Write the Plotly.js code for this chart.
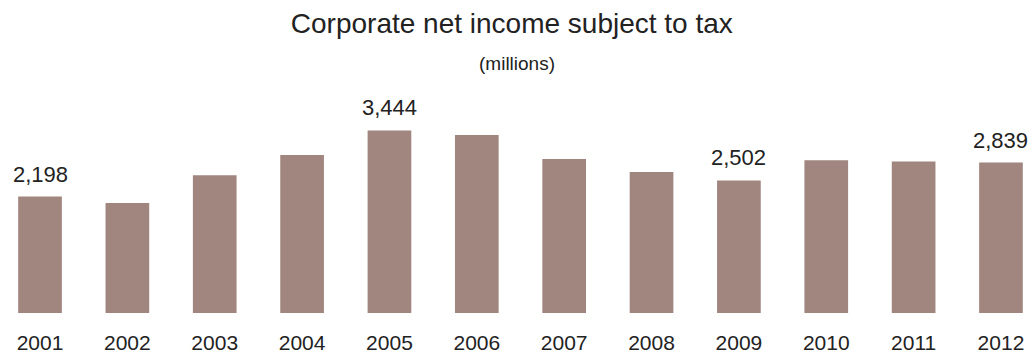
<!DOCTYPE html>
<html>
<head>
<meta charset="utf-8">
<script src="https://cdn.plot.ly/plotly-3.0.1.min.js"></script>
<style>html,body{margin:0;padding:0;background:#fff;}#chart{width:1034px;height:354px;}</style>
</head>
<body>
<div id="chart"></div>
<script>
var years = ['2001','2002','2003','2004','2005','2006','2007','2008','2009','2010','2011','2012'];
var income = [2198, 2075, 2600, 2980, 3444, 3360, 2905, 2660, 2502, 2880, 2860, 2839];
var labeledYears = ['2001','2005','2009','2012'];
var labeledValues = [2198, 3444, 2502, 2839];
var labelTexts = ['2,198','3,444','2,502','2,839'];

var trace = {
  type: 'bar',
  x: years,
  y: income,
  marker: {color: '#a0867f', line: {width: 0}},
  hoverinfo: 'x+y'
};

var annotations = labeledYears.map(function(yr, i){
  return {
    x: years.indexOf(yr), y: labeledValues[i], xref: 'x', yref: 'y',
    text: labelTexts[i], showarrow: false,
    xanchor: 'center', yanchor: 'bottom', yshift: 8,
    font: {family: 'Liberation Sans, Arial, sans-serif', size: 22, color: '#222'}
  };
});

annotations.push({
  xref: 'paper', yref: 'paper', x: 0.5, y: 1, yanchor: 'bottom', xanchor: 'center',
  yshift: 25, text: '(millions)', showarrow: false,
  font: {family: 'Liberation Sans, Arial, sans-serif', size: 19, color: '#222'}
});

var layout = {
  width: 1034, height: 354,
  margin: {l: 0, r: 0, t: 101, b: 41, pad: 0},
  paper_bgcolor: '#ffffff', plot_bgcolor: '#ffffff',
  bargap: 0.5,
  showlegend: false,
  title: {
    text: 'Corporate net income subject to tax',
    x: 0.495, xanchor: 'center', y: 0.935, yanchor: 'middle',
    font: {family: 'Liberation Sans, Arial, sans-serif', size: 28, color: '#222'}
  },
  xaxis: {
    type: 'category',
    range: [-0.458, 11.378],
    showgrid: false, zeroline: false, showline: false, ticks: '',
    tickfont: {family: 'Liberation Sans, Arial, sans-serif', size: 21, color: '#222'},
    ticklabelstandoff: 15
  },
  yaxis: {
    range: [0, 4000],
    showticklabels: false, ticks: '', showgrid: false, zeroline: false, showline: false
  },
  annotations: annotations
};

Plotly.newPlot('chart', [trace], layout, {displayModeBar: false, staticPlot: true});
</script>
</body>
</html>
